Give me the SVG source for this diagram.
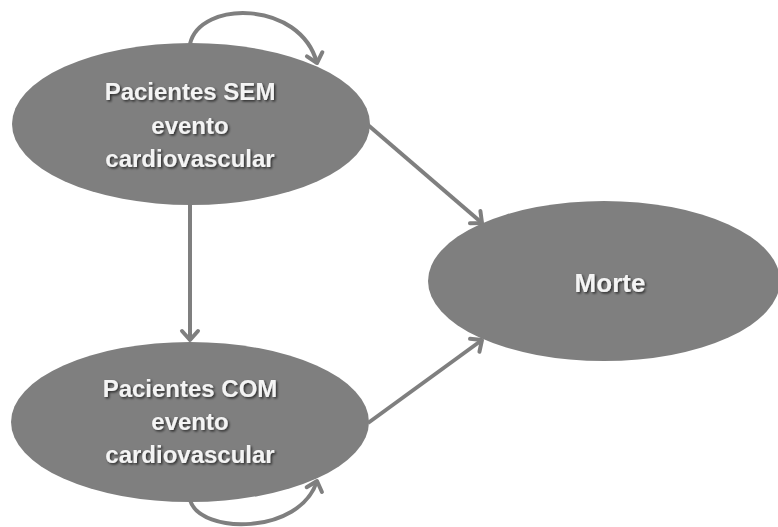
<svg xmlns="http://www.w3.org/2000/svg" width="778" height="527" viewBox="0 0 778 527">
  <style>
    .node { fill: #7f7f7f; }
    .lbl { font-family: "Liberation Sans", Arial, sans-serif; font-weight: bold; font-size: 24px; fill: #f4f4f4; text-anchor: middle; filter: url(#shadow); }
    .edge { fill: none; stroke: #7f7f7f; stroke-width: 4; marker-end: url(#arrow); }
  </style>
  <defs>
    <filter id="shadow" x="-20%" y="-40%" width="140%" height="180%">
      <feDropShadow dx="1.5" dy="1.5" stdDeviation="1" flood-color="#000" flood-opacity="0.65"/>
    </filter>
    <marker id="arrow" markerUnits="userSpaceOnUse" markerWidth="24" markerHeight="24" refX="12" refY="12" orient="auto" viewBox="0 0 24 24">
      <path d="M3,4 L12,12 L3,20" fill="none" stroke="#7f7f7f" stroke-width="4" stroke-linecap="round" stroke-linejoin="round"/>
    </marker>
  </defs>
  <rect width="778" height="527" fill="#ffffff"/>
  <g id="connectors">
    <path class="edge" d="M190,44 C200,0 300,0 317,63"/>
    <path class="edge" d="M190,204 L190,340"/>
    <path class="edge" d="M368,125 L482,223"/>
    <path class="edge" d="M368,423 L482,340"/>
    <path class="edge" d="M190,500 C200,535 300,535 317,481"/>
  </g>
  <g id="node-sem">
    <ellipse class="node" cx="191" cy="124" rx="179" ry="81"/>
    <text class="lbl" x="190" y="100">Pacientes SEM</text>
    <text class="lbl" x="190" y="134">evento</text>
    <text class="lbl" x="190" y="167">cardiovascular</text>
  </g>
  <g id="node-com">
    <ellipse class="node" cx="190" cy="422" rx="179" ry="80"/>
    <text class="lbl" x="190" y="397">Pacientes COM</text>
    <text class="lbl" x="190" y="430">evento</text>
    <text class="lbl" x="190" y="463">cardiovascular</text>
  </g>
  <g id="node-morte">
    <ellipse class="node" cx="604" cy="281" rx="176" ry="80"/>
    <text class="lbl" x="610" y="292" style="font-size:26px">Morte</text>
  </g>
</svg>
